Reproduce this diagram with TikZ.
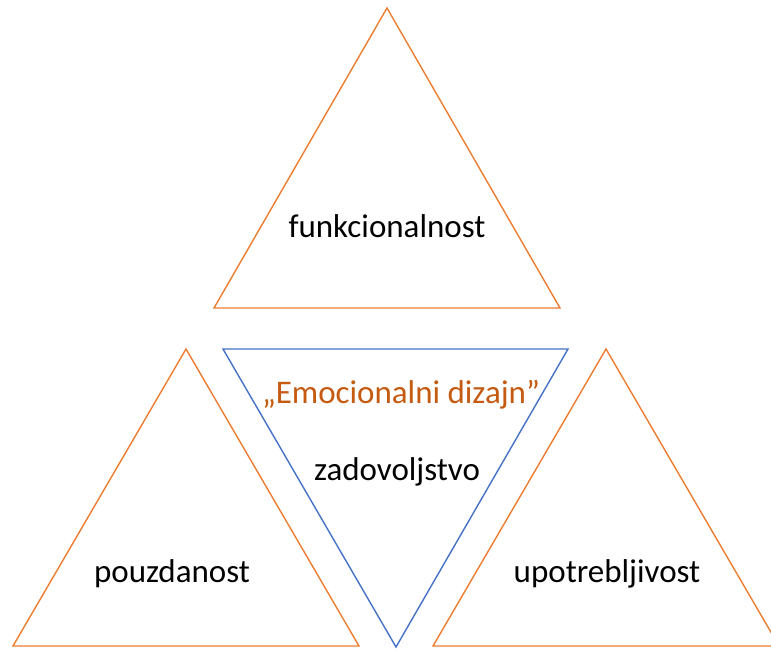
\documentclass[tikz,border=0pt]{standalone}
\usepackage{fontspec}
\setmainfont{Carlito}
\definecolor{triorange}{HTML}{ED7D31}
\definecolor{triblue}{HTML}{4472C4}
\definecolor{textorange}{HTML}{C55A11}

\begin{document}
\begin{tikzpicture}[x=1pt,y=-1pt,line width=1.4pt,
  label/.style={font=\fontsize{33}{40}\selectfont,inner sep=0pt}]
  \clip (0,0) rectangle (771,648);
% Top
% Funkcionalnost
  \draw[triorange] (387,8) -- (560,308) -- (214,308) -- cycle;
  \node[label] (funk) at (387,226) {funkcionalnost};

% Middle, upside down
% Emocionalni dizajn
  \draw[triblue] (223,349) -- (568,349) -- (396,647) -- cycle;
  \node[label,text=textorange] (emo) at (401,395) {„Emocionalni dizajn”};
  \node[label] (zad) at (397,472) {zadovoljstvo};

% Lower Left
% Pouzdanost
  \draw[triorange] (186,349) -- (359,646) -- (13,646) -- cycle;
  \node[label] (pouz) at (172,574) {pouzdanost};

% Lower Right
% Upotrebljivost
  \draw[triorange] (606,349) -- (779,646) -- (433,646) -- cycle;
  \node[label] (upot) at (607,574) {upotrebljivost};
\end{tikzpicture}
\end{document}
